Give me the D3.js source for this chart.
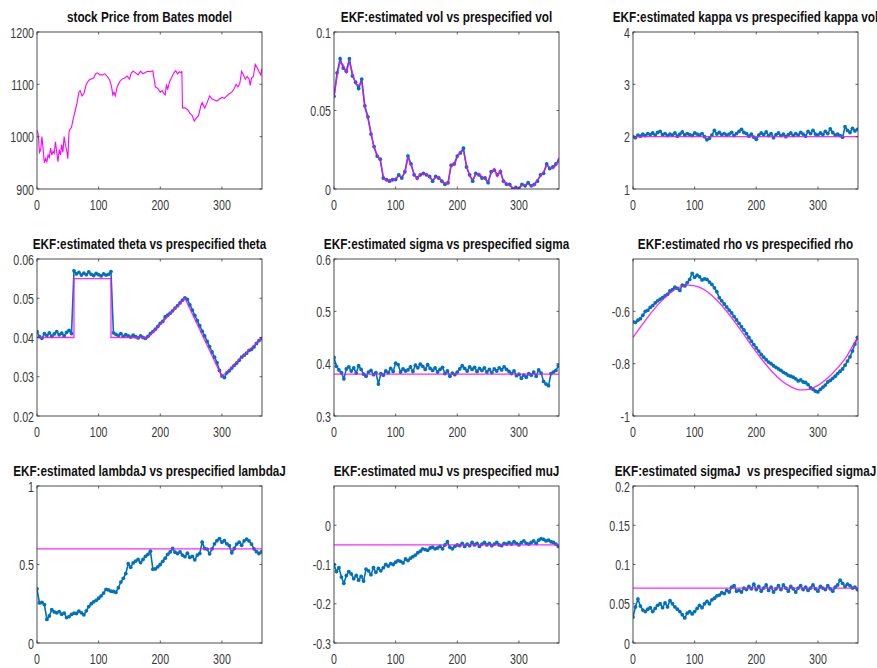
<!DOCTYPE html>
<html lang="en">
<head>
<meta charset="UTF-8">
<title>Bates model EKF estimates</title>
<script src="https://d3js.org/d3.v7.min.js"></script>
<style>
  body { margin: 0; background: #fff; }
  svg { display: block; }
  .tick-label { font-family: "Liberation Sans", Arial, sans-serif; font-size: 14px; fill: #3a3a3a; }
  .title { font-family: "Liberation Sans", Arial, sans-serif; font-size: 14px; font-weight: bold; fill: #111; }
</style>
</head>
<body>
<svg width="877" height="668"></svg>
<script>
// ---- data ----
const xTicks = [0, 100, 200, 300];

const priceDays = [0,2,4,6,8,10,12,14,16,18,20,22,24,26,28,30,32,34,36,38,40,42,44,46,48,50,52,54,56,58,60,62,65,68,70,73,76,80,84,88,92,95,98,102,106,110,114,118,121,123,125,127,130,134,138,142,146,150,153,156,160,164,168,172,176,180,184,188,190,192,196,200,203,206,208,210,212,215,218,222,225,228,231,234,235,236,240,244,248,252,255,258,262,266,268,272,276,280,284,288,292,296,300,304,308,312,316,320,323,326,329,332,335,338,341,344,346,348,351,354,357,360,363,365];
const priceValues = [1012,1005,970,975,1000,975,950,958,952,965,960,978,965,972,968,990,970,952,975,965,985,970,1000,985,975,958,1010,1015,1018,1030,1040,1050,1065,1085,1088,1078,1082,1100,1108,1110,1112,1120,1122,1118,1118,1120,1115,1108,1095,1080,1085,1078,1095,1105,1110,1112,1116,1110,1122,1125,1122,1118,1125,1120,1123,1125,1124,1126,1110,1095,1092,1085,1088,1082,1080,1100,1090,1105,1112,1122,1126,1120,1124,1122,1125,1055,1055,1052,1045,1040,1030,1035,1040,1060,1065,1055,1065,1078,1072,1070,1068,1072,1075,1073,1078,1082,1085,1092,1100,1095,1102,1125,1118,1110,1115,1110,1098,1112,1115,1138,1132,1125,1118,1130];

// vol: sampled every 5 days
const volDays = d3.range(0, 366, 5);
const volTrue = [
  .058,.072,.081,.079,.074,.081,.074,.067,.066,.068,
  .052,.045,.036,.026,.022,.018,.008,.005,.006,.005,
  .007,.008,.008,.010,.020,.015,.010,.006,.010,.009,
  .010,.007,.006,.007,.008,.004,.004,.003,.016,.015,
  .020,.024,.024,.015,.008,.006,.009,.010,.008,.006,
  .005,.010,.013,.008,.012,.004,.004,.002,.001,.000,
  .001,.002,.003,.003,.002,.002,.006,.008,.011,.015,
  .014,.013,.015,.020];
const volEst = [
  .059,.074,.083,.077,.075,.083,.072,.068,.064,.070,
  .053,.046,.035,.027,.021,.019,.007,.006,.005,.006,
  .006,.009,.007,.011,.021,.016,.009,.007,.009,.010,
  .009,.008,.005,.008,.007,.005,.003,.004,.015,.016,
  .021,.023,.026,.014,.009,.005,.010,.009,.007,.007,
  .004,.011,.012,.009,.011,.005,.003,.003,.000,.001,
  .000,.003,.002,.004,.002,.003,.005,.009,.010,.016,
  .013,.014,.016,.018];

// parameter estimates: sampled every 4 days
const estDays = d3.range(0, 365, 4);

const kappaTrue = [[0, 2], [365, 2]];
const kappaEst = [
  2.00,1.98,2.03,2.01,2.05,2.02,2.06,2.04,2.07,2.03,
  2.08,2.10,2.04,2.06,2.02,2.05,2.03,2.07,2.01,2.05,
  2.09,2.03,2.06,2.04,2.02,2.07,2.05,2.03,2.06,2.00,
  1.94,1.97,2.03,2.12,2.05,2.08,2.04,2.06,2.03,2.05,
  2.08,2.02,2.06,2.10,2.14,2.08,2.06,2.01,2.05,1.99,
  1.95,2.03,2.07,2.04,2.09,2.02,2.06,1.98,2.04,2.07,
  2.02,2.05,2.00,2.04,2.07,2.02,2.06,2.03,2.08,2.05,
  2.01,2.10,2.06,2.12,2.05,2.03,2.07,2.04,2.10,2.06,
  2.15,2.08,2.03,2.05,2.02,1.99,2.19,2.12,2.08,2.16,
  2.11,2.14];

const thetaTrue = [[0,.04],[60,.04],[60,.055],[120,.055],[120,.04],[180,.04],[240,.05],[300,.03],[365,.04]];
const thetaEst = [
  .0415,.0402,.0398,.0410,.0405,.0412,.0403,.0409,.0415,.0407,
  .0411,.0404,.0413,.0418,.0410,.0570,.0562,.0566,.0559,.0564,
  .0560,.0567,.0561,.0558,.0563,.0560,.0557,.0562,.0559,.0561,
  .0568,.0412,.0408,.0405,.0410,.0403,.0407,.0404,.0401,.0406,
  .0402,.0399,.0404,.0400,.0398,.0403,.0410,.0415,.0421,.0428,
  .0436,.0441,.0453,.0457,.0462,.0468,.0475,.0481,.0488,.0495,
  .0501,.0497,.0483,.0470,.0456,.0443,.0430,.0416,.0404,.0390,
  .0377,.0363,.0350,.0336,.0316,.0302,.0298,.0310,.0315,.0322,
  .0329,.0335,.0342,.0350,.0355,.0360,.0367,.0370,.0376,.0385,
  .0392,.0397];

const sigmaTrue = [[0, .38], [365, .38]];
const sigmaEst = [
  .412,.395,.388,.383,.371,.390,.394,.386,.392,.382,
  .396,.389,.380,.376,.384,.387,.379,.383,.361,.381,
  .378,.386,.383,.391,.385,.401,.398,.384,.390,.386,
  .388,.394,.385,.397,.392,.399,.395,.389,.398,.391,
  .387,.392,.384,.389,.393,.381,.386,.376,.382,.379,
  .384,.390,.396,.391,.386,.394,.389,.393,.385,.391,
  .387,.392,.384,.389,.383,.390,.386,.392,.388,.394,
  .389,.385,.381,.386,.377,.380,.372,.378,.374,.381,
  .378,.384,.376,.388,.382,.366,.361,.358,.381,.384,
  .387,.396];

const rhoTrueDays = [0,15,30,45,60,75,90,105,120,135,150,165,180,195,210,225,240,255,270,285,300,315,330,345,360,365];
const rhoTrue = [-.700,-.651,-.604,-.563,-.530,-.508,-.500,-.506,-.524,-.555,-.594,-.640,-.689,-.740,-.787,-.829,-.863,-.887,-.900,-.898,-.883,-.857,-.821,-.778,-.718,-.700];
const rhoEst = [
  -.640,-.642,-.634,-.628,-.615,-.600,-.596,-.585,-.578,-.568,
  -.560,-.553,-.548,-.541,-.535,-.522,-.517,-.508,-.512,-.520,
  -.500,-.503,-.490,-.478,-.455,-.470,-.462,-.468,-.480,-.476,
  -.478,-.488,-.497,-.510,-.525,-.548,-.560,-.572,-.583,-.595,
  -.606,-.620,-.633,-.646,-.659,-.671,-.685,-.700,-.714,-.727,
  -.740,-.752,-.765,-.775,-.785,-.794,-.800,-.808,-.814,-.820,
  -.826,-.833,-.838,-.845,-.848,-.852,-.858,-.866,-.862,-.870,
  -.872,-.880,-.892,-.898,-.905,-.908,-.898,-.890,-.882,-.870,
  -.864,-.856,-.848,-.838,-.829,-.820,-.806,-.790,-.774,-.752,
  -.725,-.700];

const lambdaTrue = [[0, .6], [365, .6]];
const lambdaEst = [
  .345,.255,.258,.245,.150,.172,.212,.198,.192,.200,
  .183,.190,.162,.168,.182,.190,.188,.203,.192,.180,
  .205,.232,.250,.262,.272,.285,.300,.318,.342,.338,
  .330,.328,.322,.352,.388,.412,.442,.505,.482,.510,
  .522,.532,.512,.532,.552,.565,.585,.470,.472,.485,
  .500,.520,.540,.565,.580,.602,.578,.570,.580,.560,
  .550,.572,.545,.552,.530,.560,.570,.642,.602,.598,
  .568,.600,.632,.652,.665,.642,.652,.632,.620,.575,
  .602,.630,.642,.622,.650,.662,.650,.630,.600,.582,
  .570,.580];

const muTrue = [[0, -.05], [365, -.05]];
const muEst = [
  -.100,-.118,-.108,-.132,-.148,-.128,-.118,-.124,-.136,-.128,
  -.140,-.130,-.142,-.112,-.116,-.126,-.108,-.120,-.110,-.116,
  -.108,-.100,-.104,-.098,-.100,-.094,-.090,-.092,-.096,-.086,
  -.090,-.084,-.080,-.076,-.070,-.066,-.060,-.062,-.064,-.058,
  -.056,-.060,-.058,-.054,-.060,-.050,-.042,-.056,-.060,-.054,
  -.050,-.052,-.046,-.054,-.048,-.052,-.044,-.050,-.046,-.054,
  -.048,-.044,-.050,-.046,-.052,-.048,-.044,-.050,-.052,-.046,
  -.048,-.044,-.048,-.042,-.046,-.050,-.044,-.040,-.046,-.048,
  -.044,-.040,-.046,-.038,-.034,-.036,-.040,-.038,-.042,-.044,
  -.048,-.054];

const sigmaJTrue = [[0, .07], [365, .07]];
const sigmaJEst = [
  .033,.046,.056,.047,.042,.040,.043,.045,.040,.044,
  .048,.050,.045,.051,.046,.054,.050,.046,.043,.040,
  .036,.032,.038,.040,.037,.040,.044,.048,.045,.050,
  .053,.050,.055,.057,.060,.061,.064,.063,.067,.065,
  .071,.073,.066,.067,.065,.070,.068,.072,.069,.075,
  .068,.072,.066,.070,.074,.067,.071,.065,.069,.073,
  .068,.074,.070,.066,.072,.069,.065,.070,.073,.068,
  .071,.067,.070,.074,.069,.066,.072,.070,.068,.073,
  .069,.066,.071,.074,.080,.076,.072,.075,.073,.070,
  .071,.068];

const zip = (xs, ys) => xs.slice(0, Math.min(xs.length, ys.length)).map((x, i) => [x, ys[i]]);

const panels = [
  { title: "stock Price from Bates model", y: [900, 1200], ticks: [900, 1000, 1100, 1200],
    line: zip(priceDays, priceValues) },
  { title: "EKF:estimated vol vs prespecified vol", y: [0, 0.1], ticks: [0, 0.05, 0.1],
    dots: zip(volDays, volEst), line: zip(volDays, volTrue) },
  { title: "EKF:estimated kappa vs prespecified kappa vol", y: [1, 4], ticks: [1, 2, 3, 4],
    dots: zip(estDays, kappaEst), line: kappaTrue },
  { title: "EKF:estimated theta vs prespecified theta", y: [0.02, 0.06], ticks: [0.02, 0.03, 0.04, 0.05, 0.06],
    dots: zip(estDays, thetaEst), line: thetaTrue },
  { title: "EKF:estimated sigma vs prespecified sigma", y: [0.3, 0.6], ticks: [0.3, 0.4, 0.5, 0.6],
    dots: zip(estDays, sigmaEst), line: sigmaTrue },
  { title: "EKF:estimated rho vs prespecified rho", y: [-1, -0.4], ticks: [-1, -0.8, -0.6],
    dots: zip(estDays, rhoEst), line: zip(rhoTrueDays, rhoTrue), curve: d3.curveMonotoneX },
  { title: "EKF:estimated lambdaJ vs prespecified lambdaJ", y: [0, 1], ticks: [0, 0.5, 1],
    dots: zip(estDays, lambdaEst), line: lambdaTrue },
  { title: "EKF:estimated muJ vs prespecified muJ", y: [-0.3, 0.1], ticks: [-0.3, -0.2, -0.1, 0],
    dots: zip(estDays, muEst), line: muTrue },
  { title: "EKF:estimated sigmaJ  vs prespecified sigmaJ", y: [0, 0.2], ticks: [0, 0.05, 0.1, 0.15, 0.2],
    dots: zip(estDays, sigmaJEst), line: sigmaJTrue }
];

// ---- layout ----
const svg = d3.select("svg");
const colLeft = [37, 334, 633];
const rowTop = [32, 259, 486];
const W = 225, H = 157;
const tickSqueeze = 0.76;   // the source picture is horizontally compressed
const titleSqueeze = 0.84;
const axisColor = "#3a3a3a";
const blue = "#0072BD", magenta = "#ff00ff";
const fmt = v => String(+v.toFixed(3));

function addText(g, x, y, str, cls, anchor, sx) {
  g.append("text")
    .attr("class", cls)
    .attr("transform", `translate(${x},${y}) scale(${sx},1)`)
    .attr("text-anchor", anchor)
    .style("white-space", "pre")
    .text(str);
}

panels.forEach((p, i) => {
  const left = colLeft[i % 3], top = rowTop[Math.floor(i / 3)];
  const g = svg.append("g").attr("transform", `translate(${left},${top})`);

  const x = d3.scaleLinear().domain([0, 365]).range([0, W]);
  const y = d3.scaleLinear().domain(p.y).range([H, 0]);

  const clipId = "clip" + i;
  g.append("clipPath").attr("id", clipId)
    .append("rect").attr("width", W).attr("height", H);
  const plot = g.append("g").attr("clip-path", `url(#${clipId})`);

  // estimated series: dots (MATLAB '.' marker)
  if (p.dots) {
    plot.append("path")
      .datum(p.dots)
      .attr("fill", "none")
      .attr("stroke", blue)
      .attr("stroke-width", 1.6)
      .attr("d", d3.line().x(d => x(d[0])).y(d => y(d[1])));
    plot.selectAll("circle.est")
      .data(p.dots)
      .join("circle")
      .attr("class", "est")
      .attr("cx", d => x(d[0]))
      .attr("cy", d => y(d[1]))
      .attr("r", 1.9)
      .attr("fill", blue);
  }

  // prespecified / simulated series
  plot.append("path")
    .datum(p.line)
    .attr("fill", "none")
    .attr("stroke", magenta)
    .attr("stroke-width", p.dots ? 1.3 : 1.1)
    .attr("opacity", p.dots ? 0.85 : 1)
    .attr("d", d3.line().curve(p.curve || d3.curveLinear).x(d => x(d[0])).y(d => y(d[1])));

  // box
  g.append("rect")
    .attr("width", W).attr("height", H)
    .attr("fill", "none")
    .attr("stroke", axisColor)
    .attr("stroke-width", 0.9);

  // inward ticks on all four sides
  const tl = 2.5;
  xTicks.forEach(t => {
    g.append("line").attr("x1", x(t)).attr("x2", x(t)).attr("y1", H).attr("y2", H - tl)
      .attr("stroke", axisColor).attr("stroke-width", 0.8);
    g.append("line").attr("x1", x(t)).attr("x2", x(t)).attr("y1", 0).attr("y2", tl)
      .attr("stroke", axisColor).attr("stroke-width", 0.8);
    addText(g, x(t), H + 21, String(t), "tick-label", "middle", tickSqueeze);
  });
  p.ticks.forEach(t => {
    g.append("line").attr("x1", 0).attr("x2", tl).attr("y1", y(t)).attr("y2", y(t))
      .attr("stroke", axisColor).attr("stroke-width", 0.8);
    g.append("line").attr("x1", W).attr("x2", W - tl).attr("y1", y(t)).attr("y2", y(t))
      .attr("stroke", axisColor).attr("stroke-width", 0.8);
    addText(g, -3, y(t) + 5.5, fmt(t), "tick-label", "end", tickSqueeze);
  });

  addText(g, W / 2, -10, p.title, "title", "middle", titleSqueeze);
});
</script>
</body>
</html>
